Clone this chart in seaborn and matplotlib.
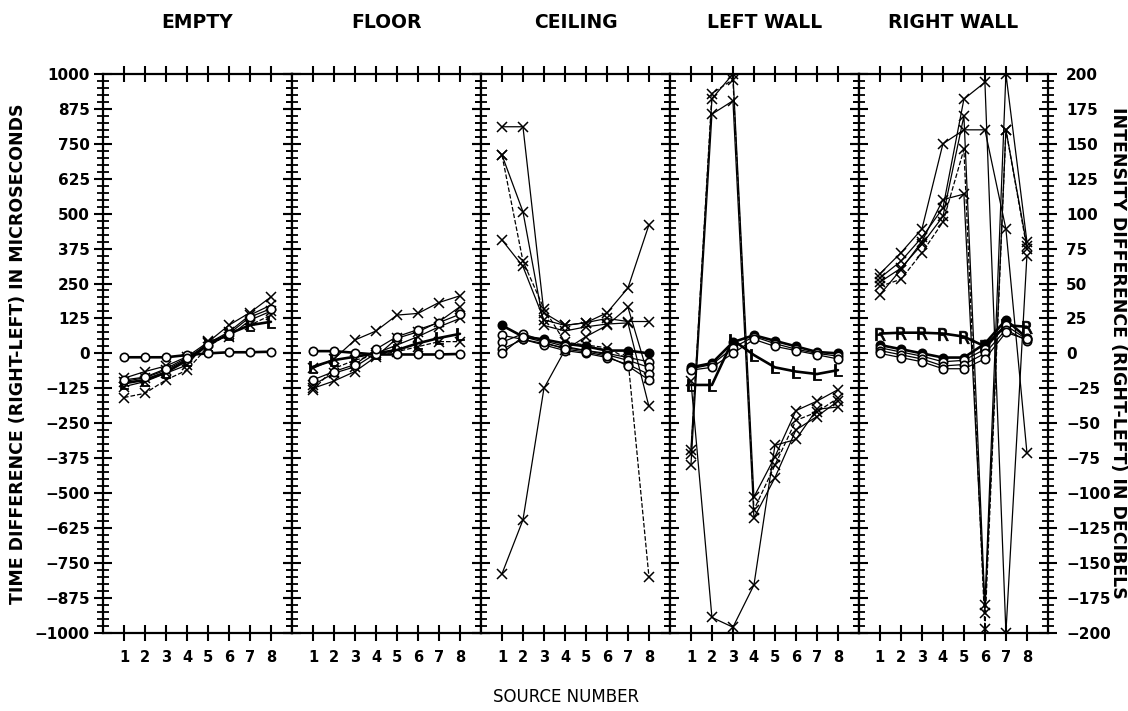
import matplotlib
matplotlib.use("Agg")
import numpy as np
import matplotlib.pyplot as plt
import seaborn as sns
from matplotlib.ticker import MultipleLocator

# ---------------- data ----------------
panel_names = ["EMPTY", "FLOOR", "CEILING", "LEFT WALL", "RIGHT WALL"]
sources = [1, 2, 3, 4, 5, 6, 7, 8]

# time differences (right-left) in microseconds, 'x' symbols
empty_time_1 = [-89, -65, -45, -12, 40, 101, 146, 202]
empty_time_2 = [-101, -87, -60, -20, 36, 77, 137, 173]
empty_time_3 = [-119, -101, -71, -42, 44, 60, 119, 151]
empty_time_4 = [-158, -143, -95, -60, 24, 71, 101, 137]
empty_L = [-107, -95, -68, -25, 30, 70, 101, 113]
# intensity differences (right-left) in decibels, 'o' symbols
empty_int_1 = [-2.8, -2.8, -2.8, -1.2, 0, 0.8, 0.8, 1.2]
empty_int_2 = [-19, -17, -11, -3, 6, 14, 26, 32]

floor_time_1 = [-54, -20, 48, 80, 137, 143, 182, 206]
floor_time_2 = [-125, -99, -65, -12, 54, 77, 113, 167]
floor_time_3 = [-113, -71, -48, 0, 30, 60, 95, 125]
floor_time_4 = [-131, -54, -24, -6, 6, 24, 42, 42]
floor_L = [-48, -24, -12, 0, 12, 36, 55, 70]
floor_int_1 = [1.6, 1.6, 0.4, -0.8, -0.8, -0.8, -0.8, -0.4]
floor_int_2 = [-19, -13, -8, 3, 12, 17, 22, 28]

ceiling_time_1 = [811, 811, 145, 100, 110, 125, 114, 114]
ceiling_time_2 = [710, 507, 100, 80, 95, 105, 109, -190]
ceiling_time_3 = [406, 311, 120, 100, 110, 145, 234, 460]
ceiling_time_4 = [710, 330, 160, 40, 30, 20, -20, -800]
ceiling_time_5 = [-789, -596, -125, 12, 60, 100, 165, -88]
ceiling_int_1 = [20, 12, 10, 7, 5, 2, 2, 0]
ceiling_int_2 = [13, 10, 7, 4, 2, 0, -3, -6]
ceiling_int_3 = [8, 14, 9, 5, 2, -1, -5, -10]
ceiling_int_4 = [3, 10, 6, 2, 0, -3, -8, -15]
ceiling_int_5 = [0, 12, 8, 3, 1, -2, -9, -19]

lwall_time_1 = [-345, 911, 1000, -514, -370, -205, -171, -130]
lwall_time_2 = [-400, 856, 904, -589, -445, -274, -226, -171]
lwall_time_3 = [-100, -945, -980, -829, -329, -308, -200, -192]
lwall_time_4 = [-360, 930, 980, -560, -400, -240, -210, -160]
lwall_L = [-113, -113, 48, -6, -50, -65, -74, -60]
lwall_int_1 = [-10, -7, 8, 13, 9, 5, 1, 0]
lwall_int_2 = [-11, -8, 4, 12, 7, 3, 0, -2]
lwall_int_3 = [-12, -10, 0, 10, 5, 2, -1, -4]

rwall_time_1 = [285, 360, 445, 750, 800, 800, 445, -355]
rwall_time_2 = [270, 330, 415, 520, 910, 970, -1000, 350]
rwall_time_3 = [255, 305, 390, 490, 850, -900, 1000, 400]
rwall_time_4 = [240, 265, 360, 470, 730, -985, 800, 375]
rwall_time_5 = [210, 300, 400, 550, 570, -930, 800, 385]
rwall_R = [71, 74, 74, 71, 60, 25, 101, 95]
rwall_int_1 = [6, 3, 0, -3, -3, 7, 24, 11]
rwall_int_2 = [4, 1, -2, -6, -5, 3, 20, 10]
rwall_int_3 = [2, -1, -4, -9, -8, 0, 17, 9]
rwall_int_4 = [0, -3, -6, -11, -11, -4, 15, 10]

time_ticks = list(range(-1000, 1001, 125))
db_ticks = list(range(-200, 201, 25))

panels = [
    dict(time=[empty_time_1, empty_time_2, empty_time_3, empty_time_4],
         letter=("L", empty_L), inten=[empty_int_1, empty_int_2]),
    dict(time=[floor_time_1, floor_time_2, floor_time_3, floor_time_4],
         letter=("L", floor_L), inten=[floor_int_1, floor_int_2]),
    dict(time=[ceiling_time_1, ceiling_time_2, ceiling_time_3, ceiling_time_4, ceiling_time_5],
         letter=None, inten=[ceiling_int_1, ceiling_int_2, ceiling_int_3, ceiling_int_4, ceiling_int_5]),
    dict(time=[lwall_time_1, lwall_time_2, lwall_time_3, lwall_time_4],
         letter=("L", lwall_L), inten=[lwall_int_1, lwall_int_2, lwall_int_3]),
    dict(time=[rwall_time_1, rwall_time_2, rwall_time_3, rwall_time_4, rwall_time_5],
         letter=("R", rwall_R), inten=[rwall_int_1, rwall_int_2, rwall_int_3, rwall_int_4]),
]

# ---------------- style ----------------
sns.set_theme(style="ticks")
plt.rcParams["font.family"] = ["DejaVu Sans"]
plt.rcParams["axes.linewidth"] = 1.6
for key in ["text.color", "axes.labelcolor", "xtick.color", "ytick.color", "axes.edgecolor"]:
    plt.rcParams[key] = "black"

fig, axes = plt.subplots(1, 5, sharey=True, figsize=(11.28, 7.11), dpi=100)
fig.subplots_adjust(left=0.0913, right=0.929, top=0.896, bottom=0.110, wspace=0)

common = dict(color="black", estimator=None, sort=False, legend=False)

for i, (ax, name, p) in enumerate(zip(axes, panel_names, panels)):
    ax2 = ax.twinx()
    ax2.set_ylim(-200, 200)

    for j, series in enumerate(p["time"]):
        sns.lineplot(x=sources, y=series, ax=ax, linewidth=0.9,
                     linestyle="--" if j == 3 else "-",
                     marker="x", markersize=7, markeredgewidth=1.1,
                     markeredgecolor="black", **common)
    for j, series in enumerate(p["inten"]):
        sns.lineplot(x=sources, y=series, ax=ax2,
                     linewidth=1.9 if j == 0 else 0.9,
                     marker="o", markersize=6, markeredgewidth=1.2,
                     markeredgecolor="black",
                     markerfacecolor="black" if j == 0 and i >= 2 else "white",
                     **common)
    if p["letter"] is not None:
        letter, series = p["letter"]
        sns.lineplot(x=sources, y=series, ax=ax, linewidth=1.9,
                     marker=f"$\\mathsf{{{letter}}}$", markersize=9,
                     markeredgewidth=0.6, markeredgecolor="black",
                     markerfacecolor="black", **common)

    ax.set_xlim(0, 9)
    ax.set_ylim(-1000, 1000)
    ax.set_xticks(sources)
    ax.set_xticklabels([str(s) for s in sources], fontsize=10.5, fontweight="bold")
    ax.set_yticks(time_ticks)
    ax.yaxis.set_minor_locator(MultipleLocator(25))
    ax.tick_params(axis="y", which="major", direction="inout", length=13, width=1.5,
                   left=True, right=True, pad=3)
    ax.tick_params(axis="y", which="minor", direction="inout", length=8, width=1.3,
                   left=True, right=True)
    ax.tick_params(axis="x", which="major", direction="inout", length=11, width=1.5,
                   top=True, bottom=True, pad=7)
    ax.set_xlabel("")
    ax.set_ylabel("")
    for s in ax.spines.values():
        s.set_linewidth(1.6)
        s.set_color("black")

    for s in ax2.spines.values():
        s.set_visible(False)
    ax2.set_ylabel("")
    ax2.set_xlabel("")
    if i == 4:
        ax2.set_yticks(db_ticks)
        ax2.set_yticklabels([str(v).replace("-", "\u2212") for v in db_ticks],
                            fontsize=11, fontweight="bold")
        ax2.tick_params(axis="y", length=0, pad=13)
    else:
        ax2.set_yticks([])

    pos = ax.get_position()
    fig.text((pos.x0 + pos.x1) / 2, 0.968, name, ha="center", va="center",
             fontsize=13.5, fontweight="bold")

axes[0].set_yticklabels([str(v).replace("-", "\u2212") for v in time_ticks],
                        fontsize=11, fontweight="bold")

fig.text(0.016, 0.503, "TIME DIFFERENCE (RIGHT-LEFT) IN MICROSECONDS",
         rotation=90, ha="center", va="center", fontsize=12.5, fontweight="bold")
fig.text(0.991, 0.503, "INTENSITY DIFFERENCE (RIGHT-LEFT) IN DECIBELS",
         rotation=270, ha="center", va="center", fontsize=12.5, fontweight="bold")
fig.text(0.502, 0.02, "SOURCE NUMBER", ha="center", va="center", fontsize=12)

fig.savefig("out.png", dpi=100, facecolor="white")
